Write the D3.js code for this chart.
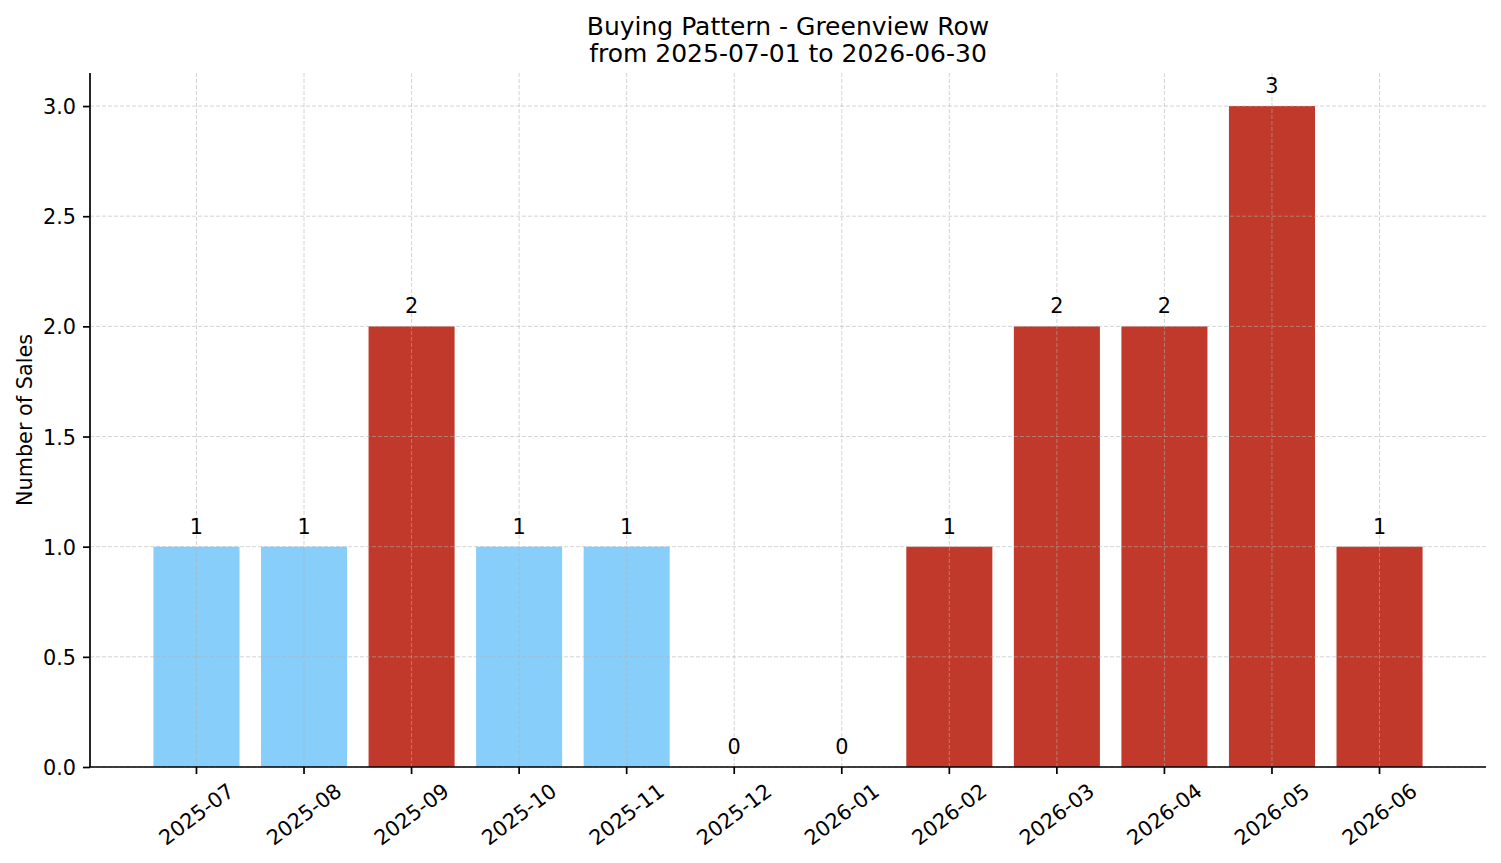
<!DOCTYPE html>
<html>
<head>
<meta charset="utf-8">
<script src="https://cdn.jsdelivr.net/npm/d3@7"></script>
<style>
  body { margin: 0; background: #fff; }
  svg { display: block; font-family: "DejaVu Sans", sans-serif; }
  .grid line { stroke: #b0b0b0; stroke-opacity: 0.55; stroke-width: 1; stroke-dasharray: 4,2; }
  .axis path, .axis line { stroke: #000; stroke-width: 1.7; }
</style>
</head>
<body>
<svg width="1501" height="863"></svg>
<script>
var months = ["2025-07", "2025-08", "2025-09", "2025-10", "2025-11", "2025-12",
              "2026-01", "2026-02", "2026-03", "2026-04", "2026-05", "2026-06"];
var sales = [1, 1, 2, 1, 1, 0, 0, 1, 2, 2, 3, 1];
var highlighted = [false, false, true, false, false, false, false, true, true, true, true, true];
var yTicks = [0, 0.5, 1, 1.5, 2, 2.5, 3];

var svg = d3.select("svg"),
    margin = {top: 73, right: 15, bottom: 96, left: 90},
    width = +svg.attr("width") - margin.left - margin.right,
    height = +svg.attr("height") - margin.top - margin.bottom;

var x = d3.scaleBand().domain(months).range([0, width]).paddingInner(0.2).paddingOuter(0.59),
    y = d3.scaleLinear().domain([0, 3.15]).range([height, 0]),
    color = d3.scaleOrdinal().domain([false, true]).range(["#87cefa", "#c0392b"]);

var data = months.map(function(m, i) { return {month: m, sales: sales[i], hot: highlighted[i]}; });

var g = svg.append("g")
    .attr("transform", "translate(" + margin.left + "," + margin.top + ")");

g.selectAll(".bar")
    .data(data)
  .enter().append("rect")
    .attr("class", "bar")
    .attr("x", function(d) { return x(d.month); })
    .attr("y", function(d) { return y(d.sales); })
    .attr("width", x.bandwidth())
    .attr("height", function(d) { return height - y(d.sales); })
    .attr("fill", function(d) { return color(d.hot); });

// grid sits on top of the bars, like the original
var grid = g.append("g").attr("class", "grid");
grid.selectAll(".gy")
    .data(yTicks)
  .enter().append("line")
    .attr("x1", 0).attr("x2", width)
    .attr("y1", function(d) { return y(d); })
    .attr("y2", function(d) { return y(d); });
grid.selectAll(".gx")
    .data(months)
  .enter().append("line")
    .attr("y1", 0).attr("y2", height)
    .attr("x1", function(d) { return x(d) + x.bandwidth() / 2; })
    .attr("x2", function(d) { return x(d) + x.bandwidth() / 2; });

g.selectAll(".label")
    .data(data)
  .enter().append("text")
    .attr("class", "label")
    .attr("x", function(d) { return x(d.month) + x.bandwidth() / 2; })
    .attr("y", function(d) { return y(d.sales) - 13; })
    .attr("text-anchor", "middle")
    .style("font-size", "20.8px")
    .text(function(d) { return d.sales; });

var yAxis = d3.axisLeft(y).tickValues(yTicks).tickFormat(d3.format(".1f")).tickSize(7).tickPadding(7).tickSizeOuter(0);
var xAxis = d3.axisBottom(x).tickSize(7).tickSizeOuter(0).tickFormat(function(d) { return d; });

var gy = g.append("g").attr("class", "axis axis--y").call(yAxis);
gy.select(".domain").attr("d", "M0,0V" + height);
gy.selectAll("text")
    .attr("dy", "0.36em")
    .style("font-size", "20.8px")
    .style("font-family", "DejaVu Sans")
    .attr("fill", "#000");

var gx = g.append("g")
    .attr("class", "axis axis--x")
    .attr("transform", "translate(0," + height + ")")
    .call(xAxis);
gx.select(".domain").attr("d", "M0,0H" + width);

// rotated labels, bbox centred under the tick like matplotlib
var angle = 37, rad = angle * Math.PI / 180, fs = 20.8, boxH = fs * 1.164;
gx.selectAll(".tick text").each(function() {
    var t = d3.select(this)
        .style("font-size", fs + "px")
        .style("font-family", "DejaVu Sans")
        .attr("fill", "#000");
    var w = this.getComputedTextLength(),
        cy = 11.5 + (w * Math.sin(rad) + boxH * Math.cos(rad)) / 2;
    t.attr("dy", null)
     .attr("text-anchor", "middle")
     .attr("transform", "translate(0," + cy + ") rotate(" + (-angle) + ")")
     .attr("y", fs * 0.346);
});

svg.append("text")
    .attr("x", margin.left + width / 2)
    .attr("y", 34.5)
    .attr("text-anchor", "middle")
    .style("font-size", "25px")
    .text("Buying Pattern - Greenview Row");

svg.append("text")
    .attr("x", margin.left + width / 2)
    .attr("y", 62)
    .attr("text-anchor", "middle")
    .style("font-size", "25px")
    .text("from 2025-07-01 to 2026-06-30");

svg.append("text")
    .attr("transform", "translate(32," + (margin.top + height / 2) + ") rotate(-90)")
    .attr("text-anchor", "middle")
    .style("font-size", "20.8px")
    .text("Number of Sales");
</script>
</body>
</html>
